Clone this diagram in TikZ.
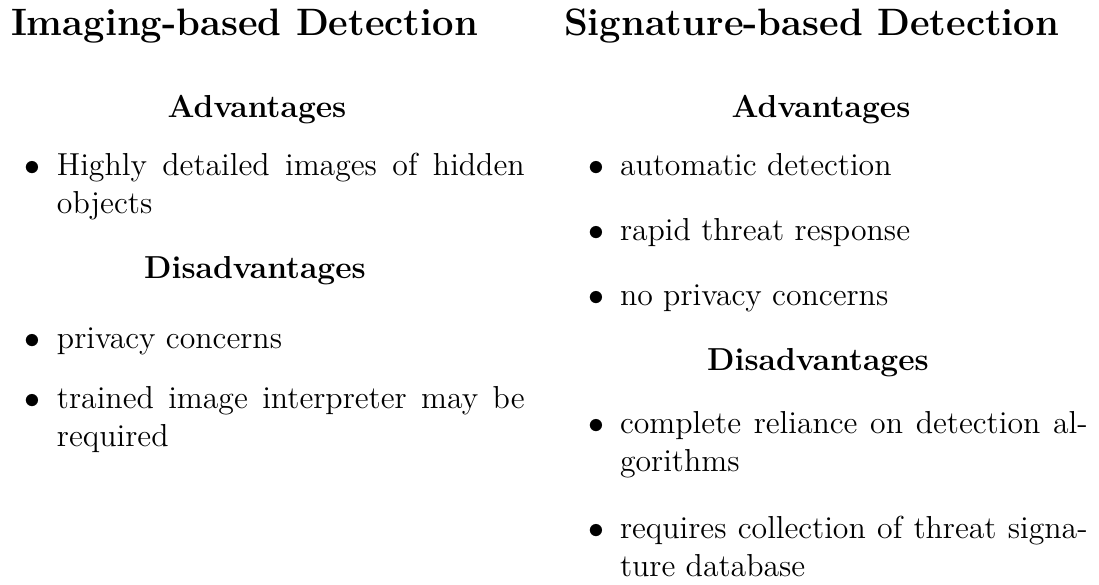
\documentclass[tikz,border=0pt]{standalone}
\begin{document}
\begin{tikzpicture}[x=0.3774pt,y=-0.3774pt,
  every node/.style={inner sep=0pt,outer sep=0pt},
  title/.style={anchor=base west,font=\fontsize{14.4}{18}\selectfont\bfseries},
  subhead/.style={anchor=base,font=\fontsize{12}{14.5}\selectfont\bfseries},
  bulletmark/.style={anchor=base,font=\fontsize{12}{14.5}\selectfont},
  itemtext/.style={anchor=base west,font=\fontsize{12}{14.5}\selectfont}]
\useasboundingbox (0,0) rectangle (1099,584);
\newcommand{\itembox}[1]{\parbox[t]{176.5pt}{#1}}

% left column
\node[title] (t1) at (11,35) {Imaging-based Detection};
\node[subhead] (a1) at (257,117) {Advantages};
\node[bulletmark] (b11) at (32,175) {$\bullet$};
\node[itemtext] (i11) at (57,175) {\itembox{Highly detailed images of hidden\linebreak objects}};
\node[subhead] (d1) at (255,278) {Disadvantages};
\node[bulletmark] (b12) at (32,348) {$\bullet$};
\node[itemtext] (i12) at (57,348) {\itembox{privacy concerns}};
\node[bulletmark] (b13) at (32,408) {$\bullet$};
\node[itemtext] (i13) at (57,408) {\itembox{trained image interpreter may be\linebreak required}};

% right column
\node[title] (t2) at (564,35) {Signature-based Detection};
\node[subhead] (a2) at (821,117) {Advantages};
\node[bulletmark] (b21) at (596,175) {$\bullet$};
\node[itemtext] (i21) at (620,175) {\itembox{automatic detection}};
\node[bulletmark] (b22) at (596,240) {$\bullet$};
\node[itemtext] (i22) at (620,240) {\itembox{rapid threat response}};
\node[bulletmark] (b23) at (596,305) {$\bullet$};
\node[itemtext] (i23) at (620,305) {\itembox{no privacy concerns}};
\node[subhead] (d2) at (818,370) {Disadvantages};
\node[bulletmark] (b24) at (596,433) {$\bullet$};
\node[itemtext] (i24) at (620,433) {\itembox{complete reliance on detection al-\linebreak gorithms}};
\node[bulletmark] (b25) at (596,538) {$\bullet$};
\node[itemtext] (i25) at (620,538) {\itembox{requires collection of threat signa-\linebreak ture database}};
\end{tikzpicture}
\end{document}
